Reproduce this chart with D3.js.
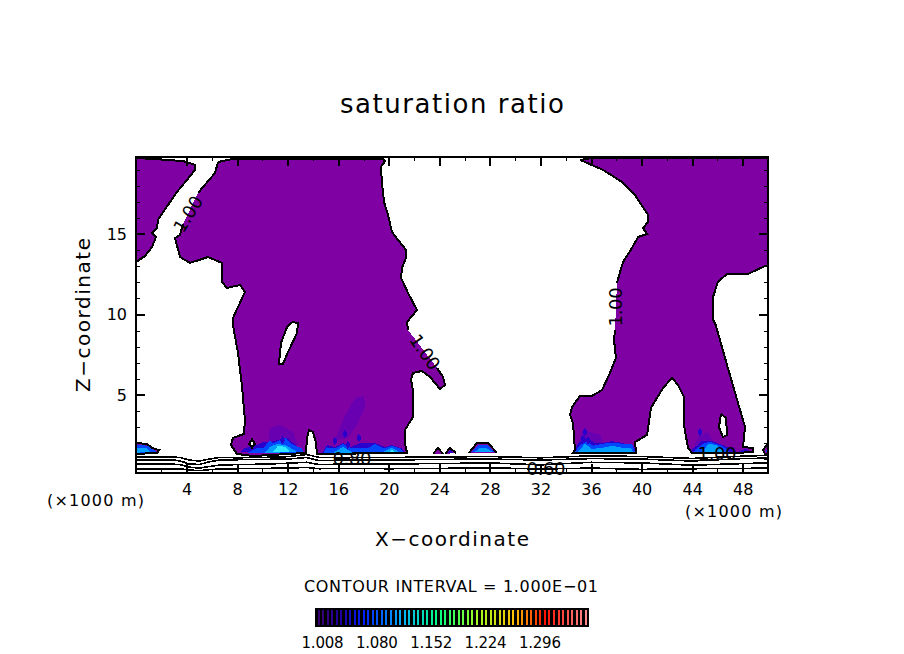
<!DOCTYPE html>
<html>
<head>
<meta charset="utf-8">
<script src="https://cdn.jsdelivr.net/npm/d3@7"></script>
<style>
	body { margin:0; background:#fff; }
	text { font-family:'DejaVu Sans'; fill:#000; }
</style>
</head>
<body>
<svg id="chart" width="904" height="654"></svg>
<script>

// x in km, z in km. null = contour pen lifted where a label sits
var blobMain = [[6.49,19.47],[7.67,19.66],[19.54,19.66],[19.70,19.53],[19.38,19.16],[19.46,18.17],[19.62,16.99],[19.94,16.18],[20.25,15.12],[20.73,14.63],[21.36,14.01],[21.36,13.51],[21.04,12.89],[20.97,12.27],[21.52,11.34],[22.23,10.28],[21.44,9.53],[21.52,9.04],null,[23.81,6.68],[24.29,6.12],[24.45,5.62],[24.05,5.37],[23.26,6.12],[22.63,6.49],[21.91,6.37],[21.76,5.93],[21.91,5.31],[21.91,3.63],[21.28,2.83],[21.28,2.02],[21.44,1.40],[14.32,1.34],[14.24,2.02],[14.00,2.70],[13.69,2.83],[13.53,2.33],[13.45,1.40],[9.26,1.21],[7.99,1.34],[7.52,1.89],[7.67,2.33],[8.54,2.58],[8.62,3.45],[8.39,5.50],[8.07,7.61],[7.67,9.35],[7.67,9.78],[8.62,11.40],[8.23,11.83],[7.20,11.65],[6.80,12.02],[6.80,13.20],[5.70,13.57],[4.27,13.20],[3.48,13.57],[3.09,14.75],[3.48,14.94],[3.72,15.62],null,[4.91,17.55],[6.25,18.79],[6.49,19.47]];
var blobRight = [[35.13,19.60],[36.16,19.72],[50,19.72],[50,13.07],[49.60,12.95],[48.42,12.52],[46.76,12.52],[46.04,12.02],[45.65,11.09],[45.65,9.66],[45.81,9.47],[46.20,8.42],[46.76,6.86],[47.63,4.50],[48.18,3.01],[48.02,1.77],[48.81,1.71],[48.81,1.46],[47.55,1.40],[43.99,1.40],[43.67,1.71],[43.35,3.14],[43.35,4.88],[42.88,5.62],[42.41,6.06],[41.69,5.43],[40.74,4.19],[40.43,2.52],[39.48,2.08],[39.56,1.40],[34.57,1.40],[34.73,1.58],[34.57,3.26],[34.34,3.76],[34.49,4.25],[35.13,4.94],[36.08,4.94],[36.87,5.31],[37.50,6.37],[37.97,7.30],[37.82,8.42],[37.90,9.04],null,[38.05,11.96],[38.53,13.26],[39.24,14.13],[39.72,14.81],[40.43,15.0],[40.11,15.37],[40.51,15.75],[40.51,16.18],[39.48,17.42],[38.45,18.23],[36.95,18.98],[35.13,19.60]];
var blobTopLeft = [[0,19.72],[1.27,19.66],[3.72,19.53],[4.67,19.29],[4.67,18.98],[4.03,18.35],[3.24,17.61],[2.53,16.80],[1.74,15.87],[1.66,15.37],[1.27,15.06],[1.58,14.81],[1.27,14.19],[0.71,13.63],[0,13.26]];
var blobEdgeLeft = [[0,2.02],[0.87,1.96],[1.27,1.71],[1.82,1.58],[1.66,1.40],[0,1.34]];
var blobEdgeRight = [[50,2.02],[49.6,1.58],[49.76,1.34],[50,1.34]];
var blobA = [[23.5,1.34],[23.89,1.71],[24.29,1.34]];
var blobB = [[24.45,1.34],[24.84,1.71],[25.32,1.40]];
var blobC = [[26.34,1.40],[26.98,2.02],[27.85,2.02],[28.56,1.40]];
var blobs = [blobMain,blobRight,blobTopLeft,blobEdgeLeft,blobEdgeRight,blobA,blobB,blobC];

var holeMain = [[12.34,9.53],[12.82,9.47],[12.74,8.85],[12.03,7.67],[11.63,6.93],[11.31,6.93],[11.47,8.23],[11.95,9.22],[12.34,9.53]];
var holeRight = [[46.28,3.82],[46.68,3.57],[46.76,2.52],[46.44,2.39],[46.12,3.01],[46.28,3.82]];
var holeDiamond = [[8.95,1.96],[9.18,2.25],[9.4,1.96],[9.18,1.72],[8.95,1.96]];
var holes = [holeMain,holeRight,holeDiamond];

// inner shaded levels, [level, polygon]
var levelPolys = [
	[1,[[10.44,2.02],[10.6,2.95],[11.39,3.14],[12.42,2.70],[12.82,1.89]]],
	[1,[[15.74,2.20],[16.38,3.45],[17.33,4.81],[18.04,4.94],[18.12,4.25],[17.48,3.14],[16.77,2.33]]],
	[1,[[34.89,1.89],[35.36,2.83],[36.71,2.52],[37.1,1.89]]],
	[1,[[44.15,1.89],[44.62,2.52],[45.25,2.7],[45.57,2.2],[46.36,1.77]]],
	[2,[[8.23,1.46],[8.62,1.71],[9.57,1.89],[10.05,2.08],[10.6,2.08],[11.95,2.33],[12.42,2.02],[12.97,1.65],[13.21,1.46]]],
	[2,[[14.72,1.40],[15.11,1.89],[15.74,1.77],[16.38,2.02],[17.0,1.77],[17.72,2.02],[18.91,2.02],[19.7,1.77],[20.25,1.89],[21.12,1.65],[21.28,1.40]]],
	[2,[[34.65,1.46],[34.97,2.02],[35.68,2.33],[36.31,2.02],[36.95,2.02],[37.66,2.14],[38.45,2.02],[39.4,1.83],[39.56,1.40]]],
	[2,[[43.83,1.46],[44.38,1.89],[44.78,2.14],[45.57,2.14],[46.6,1.83],[47.23,1.65],[47.55,1.46]]],
	[2,[[47.63,1.46],[48.18,1.65],[48.65,1.52]]],
	[2,[[24.6,1.40],[24.9,1.58],[25.1,1.40]]],
	[3,[[0,1.9],[0.9,1.85],[1.3,1.65],[1.7,1.45],[0,1.4]]],
	[3,[[8.78,1.40],[9.57,1.7],[10.05,1.7],[10.6,2.15],[10.84,2.0],[11.79,2.35],[12.42,1.9],[13.13,1.68],[13.3,1.40]]],
	[3,[[14.87,1.40],[15.03,1.75],[15.74,1.68],[16.38,1.95],[17.09,1.68],[18.28,1.68],[18.91,1.95],[19.62,1.68],[20.25,1.85],[20.89,1.68],[21.2,1.40]]],
	[3,[[26.5,1.45],[27.1,1.88],[27.8,1.88],[28.4,1.45]]],
	[3,[[34.73,1.46],[35.13,1.9],[35.68,2.1],[36.16,1.85],[36.95,1.97],[37.74,2.04],[38.45,1.97],[39.24,1.97],[39.48,1.46]]],
	[3,[[44.07,1.46],[44.86,1.97],[45.41,2.1],[46.36,1.85],[47.0,1.46]]],
	[3,[[49.84,1.46],[50,1.83],[50,1.46]]],
	[4,[[0,1.7],[0.8,1.7],[1.2,1.45],[0,1.42]]],
	[4,[[10.21,1.40],[10.6,1.78],[11.23,1.97],[11.95,1.85],[12.74,1.46]]],
	[4,[[15.59,1.40],[16.38,1.78],[17.17,1.40]]],
	[4,[[19.38,1.40],[20.25,1.72],[20.97,1.40]]],
	[4,[[26.8,1.45],[27.2,1.72],[27.7,1.72],[28.2,1.45]]],
	[4,[[34.97,1.46],[35.52,1.97],[36.08,1.65],[36.95,1.72],[37.74,1.85],[38.45,1.72],[39.16,1.72],[39.32,1.46]]],
	[4,[[44.86,1.46],[45.25,1.97],[45.89,1.9],[46.44,1.46]]],
	[5,[[10.84,1.46],[11.23,1.85],[11.79,1.78],[12.18,1.46]]],
	[5,[[19.94,1.40],[20.25,1.58],[20.57,1.40]]]
];
var levelColors = ['#7f00a3','#6800b2','#2a00cc','#0048ff','#00a0ff','#30e8ff'];
var spots = [[16.53,2.58],[15.74,2.14],[17.64,2.33],[16.77,1.89],[35.52,2.70],[35.36,2.27],[35.76,2.2],[44.62,2.70],[11.6,2.2]];

// the stack of thin contours under the cloud
var lineX = [0,3,3.6,4.2,5,5.8,6.6,8,10,12,13.5,14.5,16,20,24,28,32,36,40,44,48,50];
var line2 = [1.15,1.15,1.1,0.96,0.9,1.02,1.12,1.1,1.12,1.17,1.3,1.12,1.1,1.12,1.15,1.18,1.1,1.22,1.18,1.06,1.2,1.25];
var line3 = [0.98,0.96,0.88,0.72,0.68,0.85,0.96,0.98,1.0,1.02,1.12,0.92,0.95,0.96,1.0,1.02,0.96,1.05,1.02,0.9,1.05,1.08];
var line4 = [0.72,0.7,0.66,0.52,0.46,0.56,0.64,0.68,0.7,0.76,0.82,0.68,0.7,0.72,0.74,0.78,0.66,0.82,0.78,0.64,0.74,0.78];
var line5 = [0.42,0.42,0.4,0.34,0.3,0.36,0.4,0.42,0.44,0.46,0.5,0.42,0.44,0.42,0.44,0.48,0.4,0.46,0.38,0.42,0.44,0.46];
var thinLines = [line2,line3,line4,line5];

var contourLabels = [
	{t:'1.00',x:4.11,z:16.24,r:-58},
	{t:'1.00',x:37.97,z:10.47,r:-90},
	{t:'1.00',x:22.86,z:7.67,r:55},
	{t:'1.00',x:45.97,z:1.34,r:0},
	{t:'0.80',x:17.09,z:1.05,r:0},
	{t:'0.60',x:32.44,z:0.43,r:0}
];

var xMajor = [4,8,12,16,20,24,28,32,36,40,44,48];
var xMinor = [2,6,10,14,18,22,26,30,34,38,42,46];
var zMajor = [5,10,15];
var zMinor = [1,2,3,4,6,7,8,9,11,12,13,14,16,17,18,19];

var barTicks = [1.008,1.080,1.152,1.224,1.296];
var barLevels = d3.range(0,60).map(function(i){ return +(1.0+i*0.006).toFixed(3) });
var barStops = [1.0,1.03,1.06,1.11,1.16,1.21,1.26,1.3,1.35];
var barStopColors = ['#3a0070','#2000a0','#0020ff','#00b0ff','#00ff80','#a0ff20','#ffc000','#ff1000','#ff8080'];

//--------------------------------------------------

var svg = d3.select('#chart');

var x = d3.scaleLinear().domain([0,50]).range([136,768]);
var z = d3.scaleLinear().domain([0.155,19.78]).range([473,157]);

var lineGen = d3.line()
				.defined(function(d){ return d !== null })
				.x(function(d){ return x(d[0]) })
				.y(function(d){ return z(d[1]) });

function noGaps(p){ return p.filter(function(d){ return d !== null }) }

var plot = svg.append('g').attr('shape-rendering','crispEdges');

plot.selectAll('.blob')
	.data(blobs)
	.enter()
	.append('path')
	.attr('class','blob')
	.attr('d',function(d){ return lineGen(noGaps(d))+'Z' })
	.attr('fill',levelColors[0]);

plot.selectAll('.level')
	.data(levelPolys)
	.enter()
	.append('path')
	.attr('class','level')
	.attr('d',function(d){ return lineGen(d[1])+'Z' })
	.attr('fill',function(d){ return levelColors[d[0]] });

plot.selectAll('.spot')
	.data(spots)
	.enter()
	.append('path')
	.attr('class','spot')
	.attr('d',d3.symbol(d3.symbolDiamond,22))
	.attr('transform',function(d){ return 'translate('+x(d[0])+','+z(d[1])+')' })
	.attr('fill',levelColors[2]);

plot.selectAll('.hole')
	.data(holes)
	.enter()
	.append('path')
	.attr('class','hole')
	.attr('d',function(d){ return lineGen(d)+'Z' })
	.attr('fill','#fff');

plot.selectAll('.outline')
	.data(blobs.concat(holes))
	.enter()
	.append('path')
	.attr('class','outline')
	.attr('d',lineGen)
	.attr('fill','none')
	.attr('stroke','#000')
	.attr('stroke-width',2);

var thinGen = d3.line()
				.x(function(d,i){ return x(lineX[i]) })
				.y(function(d){ return z(d) });

plot.selectAll('.thin')
	.data(thinLines)
	.enter()
	.append('path')
	.attr('class','thin')
	.attr('d',thinGen)
	.attr('fill','none')
	.attr('stroke','#000')
	.attr('stroke-width',1.6);

// axes: ticks point into the frame on all four sides
function styleAxis(g,hideText){
	g.select('.domain').remove();
	g.selectAll('line').attr('stroke','#000');
	g.selectAll('text').style('font-size','16px');
	if(hideText) g.selectAll('text').remove();
}

function addAxis(axis,dx,dy,width,hideText){
	svg.append('g')
		.attr('transform','translate('+dx+','+dy+')')
		.attr('shape-rendering','crispEdges')
		.call(axis)
		.call(styleAxis,hideText)
		.selectAll('line').attr('stroke-width',width);
}

addAxis(d3.axisBottom(x).tickValues(xMajor).tickSize(-9).tickPadding(11).tickFormat(d3.format('d')),0,473,2,false);
addAxis(d3.axisBottom(x).tickValues(xMinor).tickSize(-4),0,473,1,true);
addAxis(d3.axisTop(x).tickValues(xMajor).tickSize(-9),0,157,2,true);
addAxis(d3.axisTop(x).tickValues(xMinor).tickSize(-4),0,157,1,true);
addAxis(d3.axisLeft(z).tickValues(zMajor).tickSize(-9).tickPadding(9).tickFormat(d3.format('d')),136,0,2,false);
addAxis(d3.axisLeft(z).tickValues(zMinor).tickSize(-4),136,0,1,true);
addAxis(d3.axisRight(z).tickValues(zMajor).tickSize(-9),768,0,2,true);
addAxis(d3.axisRight(z).tickValues(zMinor).tickSize(-4),768,0,1,true);

svg.append('rect')
	.attr('x',x(0))
	.attr('y',z(19.78))
	.attr('width',x(50)-x(0))
	.attr('height',z(0.155)-z(19.78))
	.attr('fill','none')
	.attr('stroke','#000')
	.attr('stroke-width',2.5)
	.attr('shape-rendering','crispEdges');

svg.selectAll('.clabel')
	.data(contourLabels)
	.enter()
	.append('text')
	.attr('class','clabel')
	.attr('transform',function(d){ return 'translate('+x(d.x)+','+z(d.z)+') rotate('+d.r+')' })
	.attr('text-anchor','middle')
	.attr('dominant-baseline','central')
	.attr('textLength',39)
	.attr('lengthAdjust','spacing')
	.style('font-size','18px')
	.text(function(d){ return d.t });

function label(t,cx,cy,size,len,rot){
	svg.append('text')
		.attr('transform','translate('+cx+','+cy+')'+(rot ? ' rotate('+rot+')' : ''))
		.attr('text-anchor','middle')
		.attr('textLength',len)
		.attr('lengthAdjust','spacing')
		.style('font-size',size+'px')
		.text(t);
}

label('saturation ratio',452,113,26,224);
label('X\u2212coordinate',452,546,20,154);
label('Z\u2212coordinate',90,315,20,154,-90);
label('(\u00d71000 m)',95.5,506,16,97);
label('(\u00d71000 m)',733.5,517,16,97);
label('CONTOUR INTERVAL = 1.000E\u221201',451,592,16,294);

// colour bar
var barX = d3.scaleLinear().domain([0.998,1.361]).range([315,589]);
var barY = 608;
var barH = 19;
var barCol = d3.scaleLinear().domain(barStops).range(barStopColors);

var bar = svg.append('g').attr('shape-rendering','crispEdges');

bar.append('rect')
	.attr('x',barX(0.998))
	.attr('y',barY)
	.attr('width',barX(1.361)-barX(0.998))
	.attr('height',barH)
	.attr('fill','#000');

bar.selectAll('.swatch')
	.data(barLevels)
	.enter()
	.append('rect')
	.attr('class','swatch')
	.attr('x',function(d){ return barX(d)+1 })
	.attr('y',barY+2)
	.attr('width',2)
	.attr('height',barH-4)
	.attr('fill',function(d){ return barCol(d) });

svg.selectAll('.barlabel')
	.data(barTicks)
	.enter()
	.append('text')
	.attr('class','barlabel')
	.attr('x',function(d){ return barX(d) })
	.attr('y',648)
	.attr('text-anchor','middle')
	.attr('textLength',42)
	.attr('lengthAdjust','spacing')
	.style('font-size','15px')
	.text(function(d){ return d3.format('.3f')(d) });

</script>
</body>
</html>
